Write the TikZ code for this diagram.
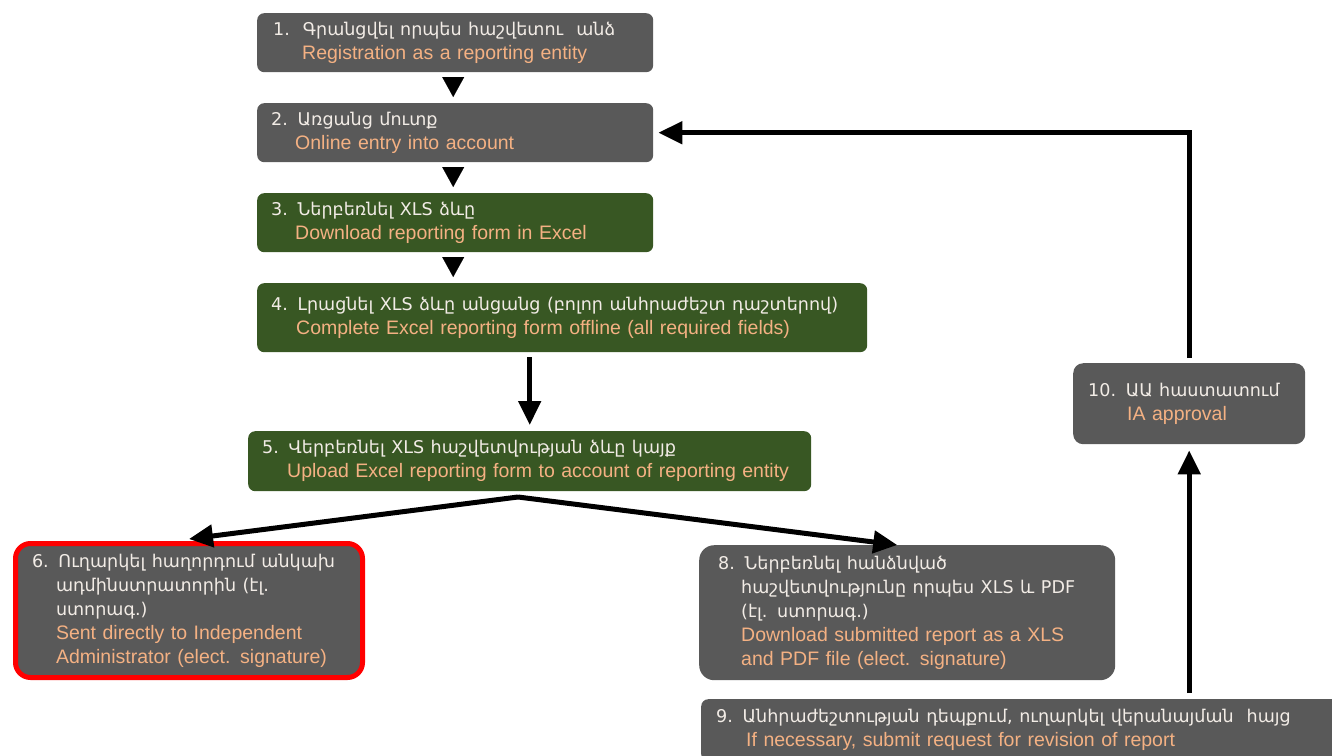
\documentclass[tikz,border=0pt]{standalone}
\usepackage{fontspec}
\setmainfont{Liberation Sans}
\newfontfamily\armfont[Scale=0.9]{DejaVu Sans}
\usetikzlibrary{arrows.meta}

\definecolor{boxgray}{HTML}{595959}
\definecolor{boxgreen}{HTML}{385723}
\definecolor{armtext}{HTML}{F2ECE6}
\definecolor{engtext}{HTML}{F4B183}

\newcommand{\hy}[1]{{\armfont\color{armtext}#1}}
\newcommand{\en}[1]{{\color{engtext}#1}}

\begin{document}
\begin{tikzpicture}[x=1pt,y=-1pt,
  stage/.style={anchor=north west, rounded corners=7pt, inner ysep=0pt,
    align=left, font=\fontsize{19.5}{24}\selectfont},
  gray stage/.style={stage, fill=boxgray},
  green stage/.style={stage, fill=boxgreen},
  drop/.style={-{Triangle[length=20pt,width=22pt]}, line width=0.1pt},
  flow/.style={line width=5pt, -{Triangle[length=24pt,width=22pt]}}]

  \useasboundingbox (0,0) rectangle (1332,755);

  % Main column
  \node[gray stage, inner xsep=16pt, minimum width=396, minimum height=59, text width=364pt] (reg) at (257,13)
    {\hy{1.\ \ Գրանցվել որպես հաշվետու\ \ անձ}\\ \hspace*{29pt}\en{Registration as a reporting entity}};
  \node[gray stage, inner xsep=14pt, minimum width=396, minimum height=59, text width=368pt] (login) at (257,103)
    {\hy{2. Առցանց մուտք}\\ \hspace*{24pt}\en{Online entry into account}};
  \node[green stage, inner xsep=14pt, minimum width=396, minimum height=59, text width=368pt] (dl) at (257,193)
    {\hy{3. Ներբեռնել XLS ձևը}\\ \hspace*{24pt}\en{Download reporting form in Excel}};
  \node[green stage, inner xsep=14pt, minimum width=610, minimum height=69, text width=582pt] (fill) at (257,283)
    {\hy{4. Լրացնել XLS ձևը անցանց (բոլոր անհրաժեշտ դաշտերով)}\\ \hspace*{25pt}\en{Complete Excel reporting form offline (all required fields)}};
  \node[green stage, inner xsep=14pt, minimum width=563, minimum height=60, text width=535pt] (upl) at (248,431)
    {\hy{5. Վերբեռնել XLS հաշվետվության ձևը կայք}\\ \hspace*{25pt}\en{Upload Excel reporting form to account of reporting entity}};

  % Outcomes
  \node[gray stage, draw=red, line width=5pt, rounded corners=15pt, inner xsep=16.5pt,
    minimum width=347, minimum height=134, text width=314pt] (sent) at (13,541)
    {\hy{6. Ուղարկել հաղորդում անկախ}\\ \hspace*{24pt}\hy{ադմինստրատորին (էլ.}\\ \hspace*{24pt}\hy{ստորագ.)}\\
     \hspace*{24pt}\en{Sent directly to Independent}\\ \hspace*{24pt}\en{Administrator (elect. signature)}};
  \node[gray stage, rounded corners=15pt, inner xsep=19pt, minimum width=416, minimum height=135, text width=378pt] (dlsub) at (699,545)
    {\hy{8. Ներբեռնել հանձնված}\\ \hspace*{23pt}\hy{հաշվետվությունը որպես XLS և PDF}\\ \hspace*{23pt}\hy{(էլ. ստորագ.)}\\
     \hspace*{23pt}\en{Download submitted report as a XLS}\\ \hspace*{23pt}\en{and PDF file (elect. signature)}};
  \node[gray stage, inner xsep=15pt, minimum width=650, minimum height=62, text width=620pt] (rev) at (701,699)
    {\hy{9. Անհրաժեշտության դեպքում, ուղարկել վերանայման\ \ հայց}\\ \hspace*{30pt}\en{If necessary, submit request for revision of report}};
  \node[gray stage, rounded corners=10pt, inner xsep=15pt, minimum width=232, minimum height=81, text width=202pt] (ia) at (1073,363)
    {\hy{10. ԱԱ հաստատում}\\ \hspace*{39pt}\en{IA approval}};

  % Small drops between the first boxes
  \draw[drop] ([yshift=-5pt,xshift=-2pt]reg.south) -- ([yshift=6pt,xshift=-2pt]login.north);
  \draw[drop] ([yshift=-5pt,xshift=-2pt]login.south) -- ([yshift=6pt,xshift=-2pt]dl.north);
  \draw[drop] ([yshift=-5pt,xshift=-2pt]dl.south) -- ([yshift=6pt,xshift=-2pt]dl.south |- fill.north);

  % Thick arrows
  \draw[flow] ([yshift=-5pt]fill.south -| upl.north) -- ([yshift=6pt]upl.north);
  \coordinate (split) at (518,497);
  \draw[flow] (split) -- ([yshift=2pt]sent.north);
  \draw[flow] (split) -- ([xshift=-10pt]dlsub.north);
  \draw[flow] ([yshift=6pt]rev.north -| ia.south) -- ([yshift=-6pt]ia.south);
  \draw[flow] ([yshift=5pt]ia.north) |- ([xshift=5pt]login.east);

\end{tikzpicture}
\end{document}
